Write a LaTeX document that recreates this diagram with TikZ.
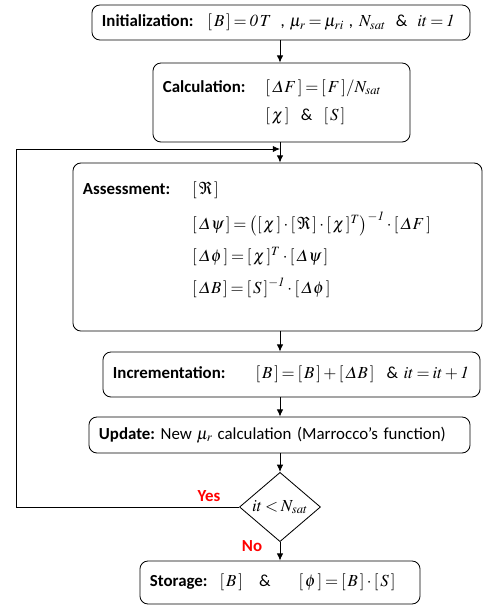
\documentclass[tikz,border=0pt]{standalone}
\usepackage{amsmath}
\usepackage{mathptmx}
\usepackage{fontspec}
\setmainfont{Carlito}
\usepackage{tikz}
\usetikzlibrary{arrows.meta}
\usetikzlibrary{shapes.geometric}
\tikzset{>={Latex[width=1.6mm,length=1.8mm]}}
\newcommand{\bk}[1]{[\mkern2mu#1\mkern2mu]}
\newcommand{\eq}[1]{$#1$}
\newcommand{\dl}{\varDelta}
\thickmuskip=3mu plus 1mu
\medmuskip=2.5mu plus 1mu

\begin{document}
\begin{tikzpicture}[x=0.025cm,y=-0.025cm,
  box/.style={draw,line width=0.6pt,rounded corners=0.2cm,align=left,font=\large,inner xsep=0.25cm,inner ysep=0pt},
  line/.style={line width=0.6pt}]
\useasboundingbox (0,0) rectangle (484,608);

\node[box,text width=8.95cm,minimum height=0.875cm] (init) at (281,22.5)
 {\mbox{\textbf{Initialization:}\hspace{0.35cm}\eq{\bk{B}=\mathit{0\,T}}\hspace{0.25cm},\hspace{0.12cm}\eq{\mu_r=\mu_{ri}}\hspace{0.12cm},\hspace{0.15cm}\eq{N_{sat}}\hspace{0.25cm}\&\hspace{0.25cm}\eq{it=\mathit{1}}}};

\node[box,text width=5.925cm,minimum height=1.975cm] (calc) at (281.5,102.5)
 {\begin{tabular}{@{}l@{\hspace{0.5cm}}l@{}}
  \textbf{Calculation:} & \eq{\bk{\dl F}=\bk{F}/N_{sat}}\\[6pt]
  & \eq{\bk{\chi}}\ \ \&\ \ \eq{\bk{S}}
  \end{tabular}};

\node[box,text width=9.725cm,minimum height=4.2cm] (assess) at (277.5,247)
 {\begin{tabular}{@{}l@{\hspace{0.55cm}}l@{}}
  \textbf{Assessment:} & \eq{\bk{\Re}}\\[8pt]
  & \eq{\bk{\dl\psi}=\bigl(\bk{\chi}\cdot\bk{\Re}\cdot\bk{\chi}^T\bigr)^{-\mathit{1}}\cdot\bk{\dl F}}\\[8pt]
  & \eq{\bk{\dl\phi}=\bk{\chi}^T\cdot\bk{\dl\psi}}\\[8pt]
  & \eq{\bk{\dl B}=\bk{S}^{-\mathit{1}}\cdot\bk{\dl\phi}}\\[10pt]
  \end{tabular}};

\node[box,text width=8.925cm,minimum height=1.125cm] (incr) at (291.5,374.5)
 {\mbox{\textbf{Incrementation:}\hspace{0.75cm}\eq{\bk{B}=\bk{B}+\bk{\dl B}}\hspace{0.3cm}\&\ \eq{it=it+\mathit{1}}}};

\node[box,text width=9.025cm,minimum height=0.9cm] (upd) at (279.5,435)
 {\mbox{\textbf{Update:}\ New\hspace{0.12cm}\eq{\mu_r}\hspace{0.12cm}calculation (Marrocco's function)}};

\node[draw,line width=0.6pt,diamond,inner sep=0pt,font=\large,minimum width=2.025cm,minimum height=1.55cm] (diam) at (280,507)
 {\eq{it<N_{sat}}};

\node[box,text width=6.5cm,minimum height=1.075cm] (store) at (280,582.5)
 {\mbox{\textbf{Storage:}\hspace{0.3cm}\eq{\bk{B}}\hspace{0.4cm}\&\hspace{0.7cm}\eq{\bk{\phi}=\bk{B}\cdot\bk{S}}}};

\node[red,font=\large\bfseries] (yes) at (209,496) {Yes};
\node[red,font=\large\bfseries] (no) at (252,546) {No};

% loop back
\coordinate (join) at (280,149);
\coordinate (back) at (16,149);

\draw[line,->] (init.south -| diam) -- (calc.north -| diam);
\draw[line] (calc.south -| diam) -- (join);
\draw[line,->] (join) -- (assess.north -| diam);
\draw[line,->] (assess.south -| diam) -- (incr.north -| diam);
\draw[line,->] (incr.south -| diam) -- (upd.north -| diam);
\draw[line,->] (upd.south -| diam) -- (diam.north);
\draw[line,->] (diam.south) -- (store.north -| diam);
\draw[line,->] (diam.west) -| (back) -- (join);
\end{tikzpicture}
\end{document}
